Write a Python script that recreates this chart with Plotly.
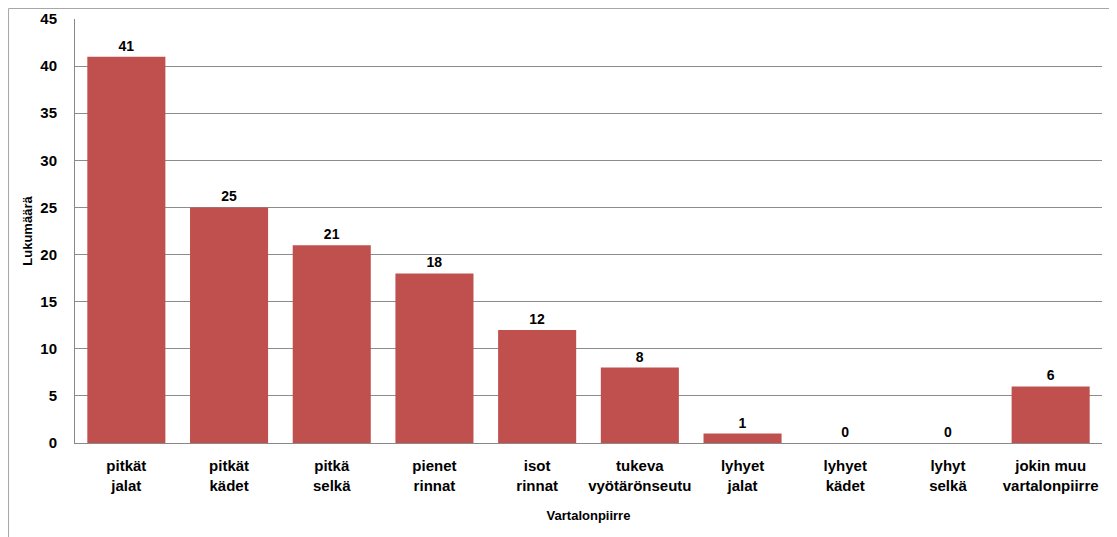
import plotly.graph_objects as go

categories = ["pitkät<br>jalat", "pitkät<br>kädet", "pitkä<br>selkä", "pienet<br>rinnat", "isot<br>rinnat",
              "tukeva<br>vyötärönseutu", "lyhyet<br>jalat", "lyhyet<br>kädet", "lyhyt<br>selkä",
              "jokin muu<br>vartalonpiirre"]
values = [41, 25, 21, 18, 12, 8, 1, 0, 0, 6]

FONT = "Liberation Sans, Arial, sans-serif"

fig = go.Figure(go.Bar(
    x=categories, y=values, marker=dict(color="#C0504D", line=dict(width=0)),
    texttemplate="<b>%{y}</b>", textposition="outside", cliponaxis=False,
    textfont=dict(family=FONT, size=14, color="#000000"),
))
fig.update_layout(
    width=1109, height=529, paper_bgcolor="white", plot_bgcolor="white",
    margin=dict(l=67, r=15, t=11, b=94), bargap=0.24, showlegend=False,
    font=dict(family=FONT, color="#000000"),
    xaxis=dict(showline=True, linecolor="#888888", linewidth=1, tickfont=dict(size=15, family=FONT),
               ticks="outside", ticklen=9, tickcolor="rgba(0,0,0,0)", automargin=False,
               tickprefix="<b>", ticksuffix="</b>",
               title=dict(text="<b>Vartalonpiirre</b>", font=dict(size=13), standoff=18)),
    yaxis=dict(range=[0, 45], dtick=5, showline=True, linecolor="#888888", linewidth=1,
               gridcolor="#8c8c8c", gridwidth=1, zeroline=False, ticks="", automargin=False,
               tickprefix="<b>", ticksuffix="</b>",
               tickfont=dict(size=15, family=FONT), ticklabelstandoff=14,
               title=dict(text="<b>Lukumäärä</b>", font=dict(size=13), standoff=4)),
    shapes=[dict(type="rect", xref="paper", yref="paper", x0=-0.0647, x1=1.2, y0=-0.5, y1=1.0248,
                 line=dict(color="#a6a6a6", width=1), fillcolor="rgba(0,0,0,0)", layer="below")],
)
fig.write_html("out.html")
